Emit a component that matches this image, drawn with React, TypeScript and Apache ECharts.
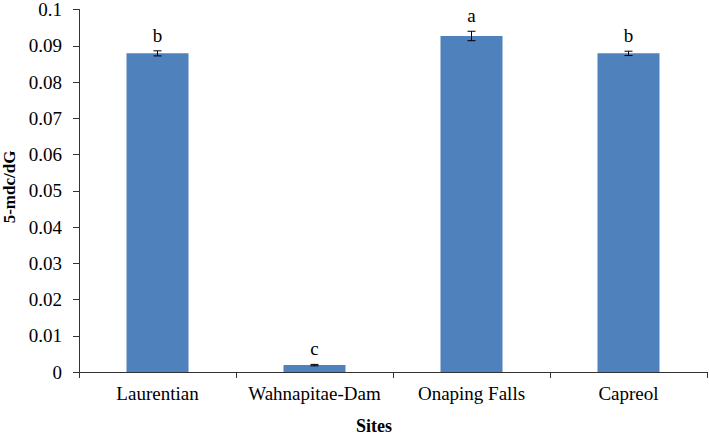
import React, { useEffect, useRef } from "react";
import * as echarts from "echarts";

const categories = ["Laurentian", "Wahnapitae-Dam", "Onaping Falls", "Capreol"];
const values = [0.0879, 0.0019, 0.0927, 0.0879];
const errors = [0.0007, 0.0002, 0.0013, 0.0006];
const letters = ["b", "c", "a", "b"];

export default function App() {
  const ref = useRef<HTMLDivElement>(null);
  useEffect(() => {
    if (!ref.current) return;
    document.body.style.margin = "0";
    const chart = echarts.init(ref.current, null, { renderer: "svg" });
    const font = "Liberation Serif";
    chart.setOption({
      animation: false,
      textStyle: { fontFamily: font },
      grid: { left: 79, right: 2, top: 8, bottom: 64 },
      xAxis: {
        type: "category",
        data: categories,
        axisLine: { lineStyle: { color: "#333", width: 1 } },
        axisTick: { show: true, length: 6, lineStyle: { color: "#333" } },
        axisLabel: { color: "#000", fontFamily: font, fontSize: 19, margin: 12, interval: 0 },
      },
      yAxis: {
        type: "value",
        min: 0,
        max: 0.1,
        interval: 0.01,
        splitLine: { show: false },
        axisLine: { show: true, lineStyle: { color: "#333", width: 1 } },
        axisTick: { show: true, length: 6, lineStyle: { color: "#333" } },
        axisLabel: { color: "#000", fontFamily: font, fontSize: 19, margin: 17 },
      },
      graphic: [
        {
          type: "text",
          x: 9,
          y: 187,
          rotation: Math.PI / 2,
          style: {
            text: "5-mdc/dG",
            fontFamily: font,
            fontWeight: "bold",
            fontSize: 17,
            fill: "#000",
            align: "center",
            verticalAlign: "middle",
          },
        },
        {
          type: "text",
          x: 374,
          y: 426,
          style: {
            text: "Sites",
            fontFamily: font,
            fontWeight: "bold",
            fontSize: 18,
            fill: "#000",
            align: "center",
            verticalAlign: "middle",
          },
        },
      ],
      series: [
        {
          type: "bar",
          data: values,
          barWidth: "39.5%",
          itemStyle: { color: "#4F81BD" },
        },
        {
          type: "custom",
          data: values.map((v, i) => [i, v, errors[i]]),
          z: 10,
          renderItem: (params: any, api: any) => {
            const i = api.value(0);
            const v = api.value(1);
            const e = api.value(2);
            const letter = letters[params.dataIndex];
            const top = api.coord([i, v + e]);
            const bot = api.coord([i, v - e]);
            const x = top[0];
            const hw = 4;
            const ls = { stroke: "#000", lineWidth: 1 };
            return {
              type: "group",
              children: [
                { type: "line", shape: { x1: x, y1: top[1], x2: x, y2: bot[1] }, style: ls },
                { type: "line", shape: { x1: x - hw, y1: top[1], x2: x + hw, y2: top[1] }, style: ls },
                { type: "line", shape: { x1: x - hw, y1: bot[1], x2: x + hw, y2: bot[1] }, style: ls },
                {
                  type: "text",
                  x: x,
                  y: top[1] - 6,
                  style: {
                    text: letter,
                    fontFamily: font,
                    fontSize: 19,
                    fill: "#000",
                    align: "center",
                    verticalAlign: "bottom",
                  },
                },
              ],
            };
          },
        },
      ],
    });
    return () => chart.dispose();
  }, []);
  return <div ref={ref} style={{ width: 709, height: 436 }} />;
}
